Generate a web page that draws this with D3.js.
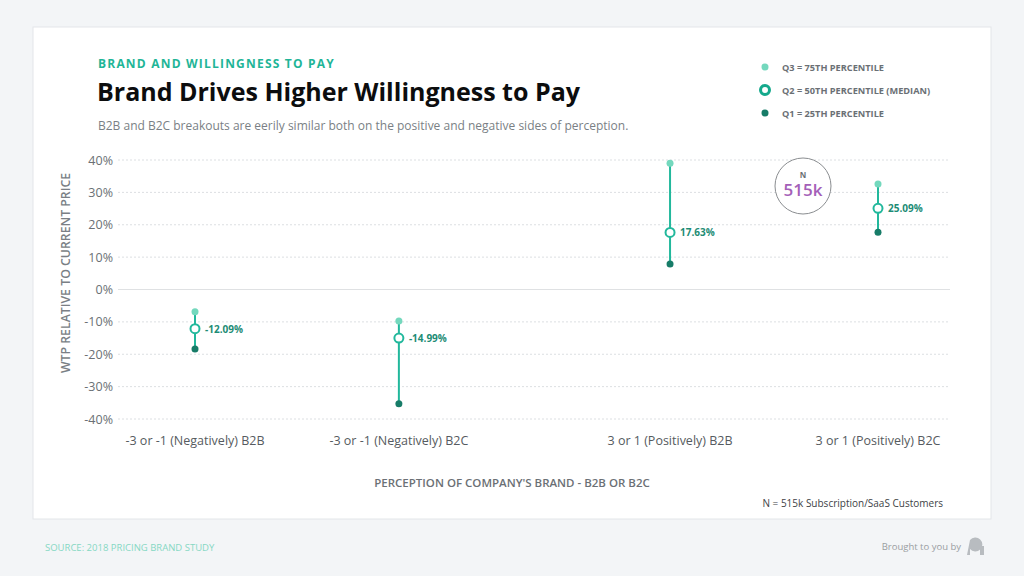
<!DOCTYPE html>
<html>
<head>
<meta charset="utf-8">
<script src="https://cdn.jsdelivr.net/npm/d3@7"></script>
<style>
  body { margin: 0; background: #f3f5f7; font-family: "Open Sans", sans-serif; }
  svg { display: block; }
</style>
</head>
<body>
<svg id="chart"></svg>
<script>
const width = 1024
const height = 576

// data
const categories = ["-3 or -1 (Negatively) B2B", "-3 or -1 (Negatively) B2C", "3 or 1 (Positively) B2B", "3 or 1 (Positively) B2C"]
const slots = [0, 1, 2.33, 3.35] // categories are not evenly spaced in the original
const q3 = [-6.9, -9.7, 39.0, 32.6]
const q2 = [-12.09, -14.99, 17.63, 25.09]
const q1 = [-18.4, -35.3, 7.9, 17.7]
const yTicks = [40, 30, 20, 10, 0, -10, -20, -30, -40]
const legendLabels = ["Q3 = 75TH PERCENTILE", "Q2 = 50TH PERCENTILE (MEDIAN)", "Q1 = 25TH PERCENTILE"]

const teal = "#22b89c"
const lightTeal = "#74d8bd"
const darkTeal = "#177c68"
const labelTeal = "#1d8c75"

const svg = d3.select("#chart")
            .attr("width", width)
            .attr("height", height);

// card
svg.append("rect")
   .attr("x", 33).attr("y", 27)
   .attr("width", 958).attr("height", 492)
   .attr("fill", "#fff")
   .attr("stroke", "#e3e6e9");

const x = d3.scaleLinear()
            .domain([0, 3.35])
            .range([195, 878])

const y = d3.scaleLinear()
            .domain([-40, 40])
            .range([419, 160])

// gridlines
svg.append("g")
   .selectAll("line")
   .data(yTicks)
   .enter()
   .append("line")
   .attr("x1", 118).attr("x2", 950)
   .attr("y1", d => y(d)).attr("y2", d => y(d))
   .attr("stroke", d => d === 0 ? "#dfe1e3" : "#dcdfe2")
   .attr("stroke-width", 1)
   .attr("stroke-dasharray", d => d === 0 ? null : "2,2");

// y axis labels
const yAxis = d3.axisLeft(y).tickValues(yTicks).tickSize(0).tickPadding(0).tickFormat(d => d + "%")
svg.append("g")
   .attr("transform", "translate(113,0)")
   .call(yAxis)
   .call(g => g.select(".domain").remove())
   .selectAll("text")
   .attr("font-family", "Open Sans")
   .attr("font-size", 12.5)
   .attr("fill", "#6b7075");

svg.append("text")
   .attr("transform", "translate(70,273) rotate(-90)")
   .attr("text-anchor", "middle")
   .attr("font-size", 12.3)
   .attr("font-weight", 600)
   .attr("fill", "#7a7f85")
   .text("WTP RELATIVE TO CURRENT PRICE");

// x axis labels
svg.append("g")
   .selectAll("text")
   .data(categories)
   .enter()
   .append("text")
   .attr("x", (d, i) => x(slots[i]))
   .attr("y", 445)
   .attr("text-anchor", "middle")
   .attr("font-size", 12.5)
   .attr("fill", "#565b60")
   .text(d => d);

svg.append("text")
   .attr("x", 512).attr("y", 487)
   .attr("text-anchor", "middle")
   .attr("font-size", 11.5)
   .attr("font-weight", 600)
   .attr("fill", "#6b7075")
   .text("PERCEPTION OF COMPANY'S BRAND - B2B OR B2C");

svg.append("text")
   .attr("x", 943).attr("y", 507)
   .attr("text-anchor", "end")
   .attr("font-size", 10)
   .attr("fill", "#3e4246")
   .text("N = 515k Subscription/SaaS Customers");

// ranges
const pts = categories.map((c, i) => ({ c: c, s: slots[i], q1: q1[i], q2: q2[i], q3: q3[i] }))

const g = svg.append("g")
g.selectAll(".range")
 .data(pts)
 .enter()
 .append("line")
 .attr("x1", d => x(d.s)).attr("x2", d => x(d.s))
 .attr("y1", d => y(d.q3)).attr("y2", d => y(d.q1))
 .attr("stroke", teal)
 .attr("stroke-width", 2);

g.selectAll(".q3")
 .data(pts)
 .enter()
 .append("circle")
 .attr("cx", d => x(d.s)).attr("cy", d => y(d.q3))
 .attr("r", 3.5)
 .attr("fill", lightTeal);

g.selectAll(".q1")
 .data(pts)
 .enter()
 .append("circle")
 .attr("cx", d => x(d.s)).attr("cy", d => y(d.q1))
 .attr("r", 3.5)
 .attr("fill", darkTeal);

g.selectAll(".q2")
 .data(pts)
 .enter()
 .append("circle")
 .attr("cx", d => x(d.s)).attr("cy", d => y(d.q2))
 .attr("r", 4.5)
 .attr("fill", "#fff")
 .attr("stroke", teal)
 .attr("stroke-width", 2);

g.selectAll(".lbl")
 .data(pts)
 .enter()
 .append("text")
 .attr("x", d => x(d.s) + 10).attr("y", d => y(d.q2) + 4)
 .attr("font-size", 10)
 .attr("font-weight", 700)
 .attr("fill", labelTeal)
 .text(d => d.q2.toFixed(2) + "%");

// N badge
svg.append("circle")
   .attr("cx", 803).attr("cy", 186).attr("r", 28)
   .attr("fill", "#fff")
   .attr("stroke", "#8a8d90")
   .attr("stroke-width", 1);
svg.append("text")
   .attr("x", 803).attr("y", 178)
   .attr("text-anchor", "middle")
   .attr("font-size", 8)
   .attr("font-weight", 700)
   .attr("fill", "#6b7075")
   .text("N");
svg.append("text")
   .attr("x", 803).attr("y", 196)
   .attr("text-anchor", "middle")
   .attr("font-size", 17)
   .attr("font-weight", 600)
   .attr("fill", "#a45fb8")
   .text("515k");

// titles
svg.append("text")
   .attr("x", 98).attr("y", 68)
   .attr("font-size", 12)
   .attr("font-weight", 700)
   .attr("letter-spacing", 1.2)
   .attr("fill", "#1fb597")
   .text("BRAND AND WILLINGNESS TO PAY");
svg.append("text")
   .attr("x", 97).attr("y", 101)
   .attr("font-size", 25)
   .attr("font-weight", 700)
   .attr("fill", "#0c0d0e")
   .text("Brand Drives Higher Willingness to Pay");
svg.append("text")
   .attr("x", 98).attr("y", 130)
   .attr("font-size", 12)
   .attr("fill", "#7a7f85")
   .text("B2B and B2C breakouts are eerily similar both on the positive and negative sides of perception.");

// legend
const legend = svg.append("g")
legend.selectAll("text")
      .data(legendLabels)
      .enter()
      .append("text")
      .attr("x", 782).attr("y", (d, i) => 71 + i * 23)
      .attr("font-size", 9.2)
      .attr("font-weight", 700)
      .attr("fill", "#6b7075")
      .text(d => d);
legend.append("circle").attr("cx", 765).attr("cy", 67).attr("r", 3.5).attr("fill", lightTeal);
legend.append("circle").attr("cx", 765).attr("cy", 90).attr("r", 4.5).attr("fill", "#fff").attr("stroke", "#14a98c").attr("stroke-width", 3);
legend.append("circle").attr("cx", 765).attr("cy", 113).attr("r", 3.5).attr("fill", darkTeal);

// footer
svg.append("text")
   .attr("x", 45).attr("y", 551)
   .attr("font-size", 9.5)
   .attr("fill", "#86d8c4")
   .text("SOURCE: 2018 PRICING BRAND STUDY");
svg.append("text")
   .attr("x", 961).attr("y", 550)
   .attr("text-anchor", "end")
   .attr("font-size", 9.5)
   .attr("fill", "#9a9ea2")
   .text("Brought to you by");
// little logo mark
svg.append("path")
   .attr("d", "M970,540 a7,7 0 1 1 0,9 l0,6 l-3,0 z")
   .attr("fill", "#b8bcc0");
svg.append("rect")
   .attr("x", 980).attr("y", 546).attr("width", 4).attr("height", 9)
   .attr("fill", "#b8bcc0");
</script>
</body>
</html>
